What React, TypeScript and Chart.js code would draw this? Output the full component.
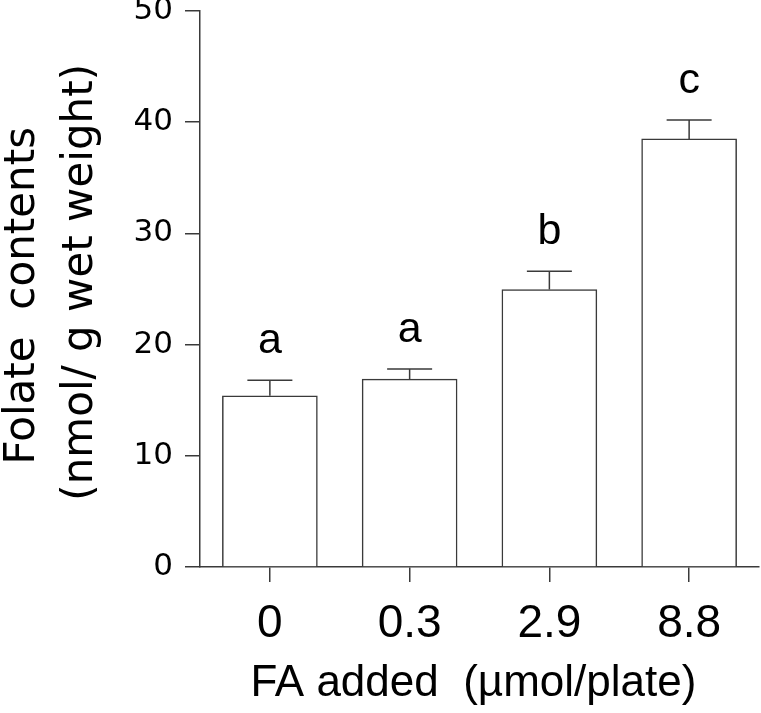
import React, { useEffect, useRef } from 'react';
import { Chart, registerables } from 'chart.js';

Chart.register(...registerables);

const categories = ['0', '0.3', '2.9', '8.8'];
const folateMeans = [15.4, 16.9, 24.95, 38.5];
const folateUpper = [16.8, 17.8, 26.6, 40.2];
const groupLetters = ['a', 'a', 'b', 'c'];
const yMin = 0;
const yMax = 50;
const yStep = 10;

const AXIS_COLOR = '#3a3a3a';

const errorBarPlugin = {
  id: 'errorBars',
  afterDatasetsDraw(chart: any) {
    const { ctx, scales } = chart;
    const x = scales.x;
    const y = scales.y;
    ctx.save();
    ctx.strokeStyle = AXIS_COLOR;
    ctx.lineWidth = 1.5;
    folateMeans.forEach((v, i) => {
      const cx = x.getPixelForValue(i);
      const yTop = y.getPixelForValue(v);
      const yErr = y.getPixelForValue(folateUpper[i]);
      ctx.beginPath();
      ctx.moveTo(cx, yTop);
      ctx.lineTo(cx, yErr);
      ctx.moveTo(cx - 22.5, yErr);
      ctx.lineTo(cx + 22.5, yErr);
      ctx.stroke();
      ctx.fillStyle = '#000';
      ctx.font = '43px "Liberation Sans", Arial, sans-serif';
      ctx.textAlign = 'center';
      ctx.textBaseline = 'alphabetic';
      ctx.fillText(groupLetters[i], cx, yErr - 27);
    });
    ctx.restore();
  },
};

export default function App() {
  const canvasRef = useRef<HTMLCanvasElement | null>(null);

  useEffect(() => {
    document.body.style.margin = '0';
    const canvas = canvasRef.current;
    if (!canvas) return;
    const chart = new Chart(canvas, {
      type: 'bar',
      data: {
        labels: categories,
        datasets: [
          {
            data: folateMeans,
            backgroundColor: '#ffffff',
            borderColor: AXIS_COLOR,
            borderWidth: 1.5,
            barThickness: 95,
          },
        ],
      },
      options: {
        animation: false,
        responsive: false,
        devicePixelRatio: 1,
        layout: { padding: { top: 11, right: 2, left: 0, bottom: 0 } },
        plugins: {
          legend: { display: false },
          tooltip: { enabled: false },
        },
        scales: {
          x: {
            type: 'category',
            offset: true,
            grid: {
              display: true,
              drawOnChartArea: false,
              drawTicks: true,
              tickLength: 15,
              offset: false,
              color: AXIS_COLOR,
              lineWidth: 1.5,
            },
            border: { display: true, color: AXIS_COLOR, width: 1.5 },
            ticks: {
              color: '#000',
              font: { family: '"Liberation Sans", Arial, sans-serif', size: 46 },
              padding: 15,
              maxRotation: 0,
              autoSkip: false,
            },
            title: {
              display: true,
              text: 'FA added  (µmol/plate) ',
              color: '#000',
              font: { family: '"Liberation Sans", Arial, sans-serif', size: 44 },
              padding: { top: 0, bottom: 3 },
            },
            afterFit(scale: any) {
              scale.height = 146;
              scale.paddingLeft = 0;
              scale.paddingRight = 0;
            },
          },
          y: {
            min: yMin,
            max: yMax,
            ticks: {
              stepSize: yStep,
              color: '#000',
              font: { family: '"DejaVu Sans", sans-serif', size: 31 },
              padding: 12,
            },
            grid: {
              display: true,
              drawOnChartArea: false,
              drawTicks: true,
              tickLength: 15,
              color: AXIS_COLOR,
              lineWidth: 1.5,
            },
            border: { display: true, color: AXIS_COLOR, width: 1.5 },
            title: {
              display: true,
              text: ['Folate  contents ', ' (nmol/ g wet weight)'],
              color: '#000',
              font: { family: '"DejaVu Sans", sans-serif', size: 42, lineHeight: 58 / 42 },
              padding: { top: -6, bottom: 0 },
            },
            afterFit(scale: any) {
              scale.width = 200;
              scale.paddingTop = 0;
              scale.paddingBottom = 0;
            },
          },
        },
      },
      plugins: [errorBarPlugin],
    });
    return () => chart.destroy();
  }, []);

  return (
    <div style={{ position: 'absolute', left: 0, top: 0, width: 761, height: 713, background: '#fff' }}>
      <canvas ref={canvasRef} width={761} height={713} style={{ display: 'block', width: 761, height: 713 }} />
    </div>
  );
}
